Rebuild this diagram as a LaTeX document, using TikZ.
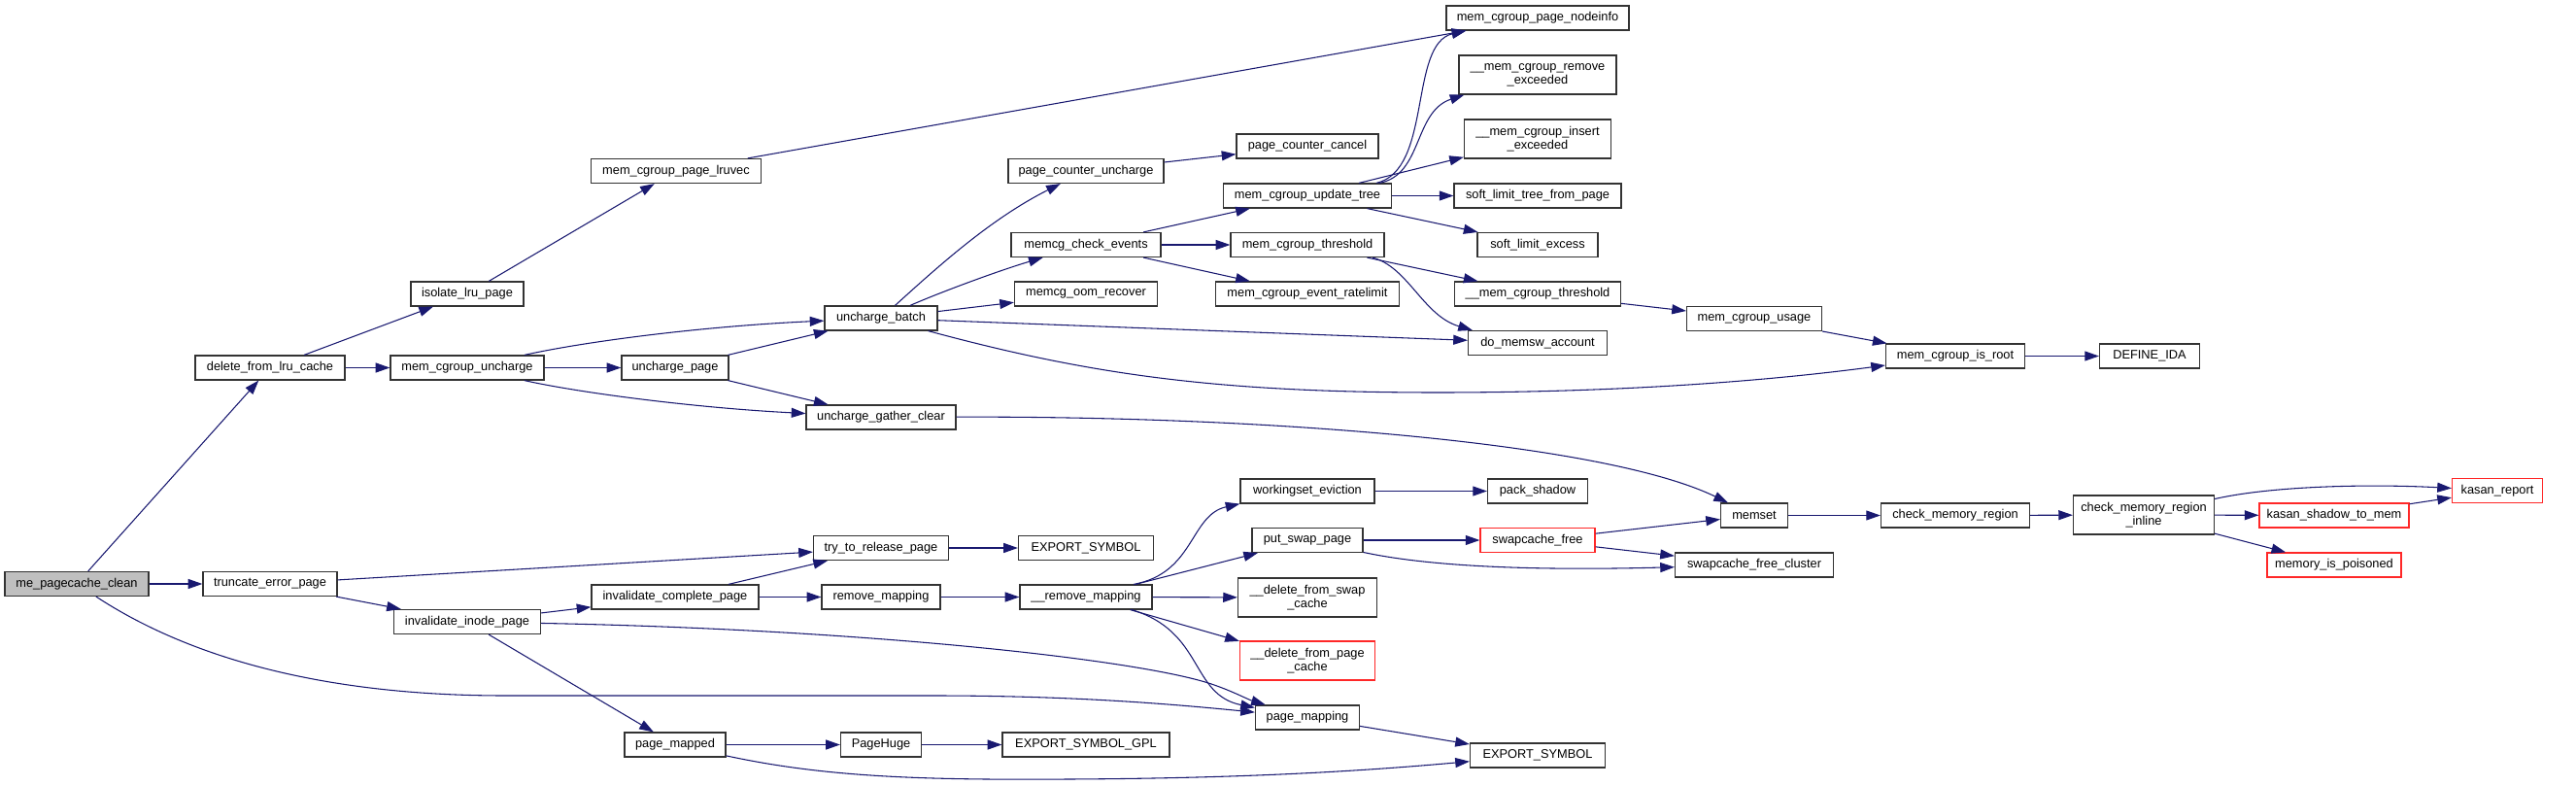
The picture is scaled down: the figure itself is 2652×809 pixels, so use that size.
\documentclass[tikz,border=0pt]{standalone}
\usepackage{fontspec}
\setmainfont{Liberation Sans}
\usetikzlibrary{arrows.meta,calc}
\definecolor{edgeblue}{HTML}{191970}
\definecolor{boxline}{HTML}{333333}
\definecolor{rootfill}{HTML}{BFBFBF}
\definecolor{trunc}{HTML}{FF2828}
\tikzset{
  fn/.style={draw=boxline, line width=0.9pt, fill=white, inner sep=0pt,
    minimum height=18.75pt, align=center, font=\fontsize{9.6}{10.5}\selectfont},
  bw/.style={minimum width=#1*0.75pt},
  tall/.style={minimum height=30pt},
  redbox/.style={draw=trunc},
  rootbox/.style={fill=rootfill},
  callline/.style={draw=edgeblue, line width=0.8pt, -{Triangle[length=11pt,width=7.5pt]}},
}
\begin{document}
\begin{tikzpicture}[x=0.75pt, y=-0.75pt]
    \useasboundingbox (0,0) rectangle (2652,809);

    % caller
    \node[fn, rootbox, bw=148] (root) at (79,601) {me\_pagecache\_clean};

    % first level
    \node[fn, bw=154] (dlc) at (278,378.5) {delete\_from\_lru\_cache};
    \node[fn, bw=138] (te) at (278,601) {truncate\_error\_page};

    % second level
    \node[fn, bw=116] (ilp) at (481,302.5) {isolate\_lru\_page};
    \node[fn, bw=158] (mcu) at (481,378.5) {mem\_cgroup\_uncharge};
    \node[fn, bw=151] (iip) at (481,640) {invalidate\_inode\_page};

    % third level
    \node[fn, bw=175] (lruvec) at (696,176) {mem\_cgroup\_page\_lruvec};
    \node[fn, bw=110] (upage) at (695,378.5) {uncharge\_page};
    \node[fn, bw=172] (icp) at (695,614.5) {invalidate\_complete\_page};
    \node[fn, bw=104] (pmapped) at (695,766.5) {page\_mapped};

    % fourth level
    \node[fn, bw=116] (ub) at (907,327.5) {uncharge\_batch};
    \node[fn, bw=154] (ugc) at (907,429.5) {uncharge\_gather\_clear};
    \node[fn, bw=139] (trp) at (907,564) {try\_to\_release\_page};
    \node[fn, bw=122] (rm) at (907,614.5) {remove\_mapping};
    \node[fn, bw=83] (phuge) at (907,766.5) {PageHuge};

    % fifth level
    \node[fn, bw=160] (pcu) at (1118,176) {page\_counter\_uncharge};
    \node[fn, bw=154] (mce) at (1118,252) {memcg\_check\_events};
    \node[fn, bw=147] (mor) at (1118,302.5) {memcg\_oom\_recover};
    \node[fn, bw=139] (esa) at (1118,564) {EXPORT\_SYMBOL};
    \node[fn, bw=136] (rmm) at (1118,614.5) {\_\_remove\_mapping};
    \node[fn, bw=172] (esgpl) at (1118,766.5) {EXPORT\_SYMBOL\_GPL};

    % sixth level
    \node[fn, bw=146] (pcc) at (1346,150.5) {page\_counter\_cancel};
    \node[fn, bw=173] (mcut) at (1346,201.5) {mem\_cgroup\_update\_tree};
    \node[fn, bw=158] (mct) at (1346,252) {mem\_cgroup\_threshold};
    \node[fn, bw=189] (mcer) at (1346,302.5) {mem\_cgroup\_event\_ratelimit};
    \node[fn, bw=138] (we) at (1346,505.5) {workingset\_eviction};
    \node[fn, bw=114] (psp) at (1346,556) {put\_swap\_page};
    \node[fn, tall, bw=143] (dfsc) at (1346,615) {\_\_delete\_from\_swap\\\_cache};
    \node[fn, tall, redbox, bw=139] (dfpc) at (1346,680) {\_\_delete\_from\_page\\\_cache};
    \node[fn, bw=107] (pmapping) at (1346,738.5) {page\_mapping};

    % seventh level
    \node[fn, bw=188] (nodeinfo) at (1583,18.5) {mem\_cgroup\_page\_nodeinfo};
    \node[fn, tall, bw=162] (mcre) at (1583,77) {\_\_mem\_cgroup\_remove\\\_exceeded};
    \node[fn, tall, bw=151] (mcie) at (1583,143) {\_\_mem\_cgroup\_insert\\\_exceeded};
    \node[fn, bw=172] (sltfp) at (1583,201.5) {soft\_limit\_tree\_from\_page};
    \node[fn, bw=124] (sle) at (1583,252) {soft\_limit\_excess};
    \node[fn, bw=171] (umct) at (1583,302.5) {\_\_mem\_cgroup\_threshold};
    \node[fn, bw=143] (dma) at (1583,353) {do\_memsw\_account};
    \node[fn, bw=103] (ps) at (1583,505.5) {pack\_shadow};
    \node[fn, redbox, bw=118] (scf) at (1583,556) {swapcache\_free};
    \node[fn, bw=139] (esb) at (1583,777.5) {EXPORT\_SYMBOL};

    % eighth level and beyond
    \node[fn, bw=139] (usage) at (1806,328) {mem\_cgroup\_usage};
    \node[fn, bw=69] (memset) at (1806,530.5) {memset};
    \node[fn, bw=163] (scfc) at (1806,581.5) {swapcache\_free\_cluster};
    \node[fn, bw=143] (isroot) at (2013,366.5) {mem\_cgroup\_is\_root};
    \node[fn, bw=153] (cmr) at (2013,530.5) {check\_memory\_region};
    \node[fn, bw=103] (ida) at (2213,366.5) {DEFINE\_IDA};
    \node[fn, tall, bw=145] (cmri) at (2207,530) {check\_memory\_region\\\_inline};
    \node[fn, redbox, bw=154] (kstm) at (2403,530.5) {kasan\_shadow\_to\_mem};
    \node[fn, redbox, bw=138] (mip) at (2403,581.5) {memory\_is\_poisoned};
    \node[fn, redbox, bw=93] (kr) at (2571,505) {kasan\_report};

    % calls from the caller
    \draw[callline] (root) -- (dlc);
    \draw[callline] (root) -- (te);
    \draw[callline] (root) .. controls (230,700) and (400,716) .. (520,716) -- (960,716)
        .. controls (1100,716) and (1200,724) .. (pmapping);

    % lru / uncharge branch
    \draw[callline] (dlc) -- (ilp);
    \draw[callline] (dlc) -- (mcu);
    \draw[callline] (ilp) -- (lruvec);
    \draw[callline] (lruvec) -- (nodeinfo);
    \draw[callline] (mcu) .. controls (600,352) and (720,336) .. (ub);
    \draw[callline] (mcu) -- (upage);
    \draw[callline] (mcu) .. controls (600,405) and (720,420) .. (ugc);
    \draw[callline] (upage) -- (ub);
    \draw[callline] (upage) -- (ugc);
    \draw[callline] (ub) .. controls (965,275) and (1020,225) .. (pcu);
    \draw[callline] (ub) .. controls (970,300) and (1030,278) .. (mce);
    \draw[callline] (ub) -- (mor);
    \draw[callline] (ub) -- (dma);
    \draw[callline] (ub) .. controls (1120,385) and (1250,404) .. (1480,404)
        .. controls (1700,404) and (1850,388) .. (isroot);
    \draw[callline] (ugc) .. controls (1300,428) and (1650,455) .. (memset);
    \draw[callline] (pcu) -- (pcc);
    \draw[callline] (mce) -- (mcut);
    \draw[callline] (mce) -- (mct);
    \draw[callline] (mce) -- (mcer);
    \draw[callline] ($(mcut.north)+(71,0)$) .. controls (1475,175) and (1450,45) .. ($(nodeinfo.south west)+(21,0)$);
    \draw[callline] ($(mcut.north)+(74,0)$) .. controls (1465,180) and (1455,115) .. ($(mcre.south west)+(6,0)$);
    \draw[callline] (mcut) -- (mcie);
    \draw[callline] (mcut) -- (sltfp);
    \draw[callline] (mcut) -- (sle);
    \draw[callline] (mct) -- (umct);
    \draw[callline] ($(mct.south)+(67,0)$) .. controls (1450,275) and (1465,325) .. ($(dma.north west)+(5,0)$);
    \draw[callline] (umct) -- (usage);
    \draw[callline] (usage) -- (isroot);
    \draw[callline] (isroot) -- (ida);

    % memset / kasan
    \draw[callline] (memset) -- (cmr);
    \draw[callline] (cmr) -- (cmri);
    \draw[callline] (cmri) .. controls (2340,500) and (2440,498) .. (kr);
    \draw[callline] (cmri) -- (kstm);
    \draw[callline] (cmri) -- (mip);
    \draw[callline] (kstm) -- (kr);

    % truncate branch
    \draw[callline] (te) -- (trp);
    \draw[callline] (te) -- (iip);
    \draw[callline] (iip) -- (icp);
    \draw[callline] (iip) .. controls (900,648) and (1180,680) .. (1250,705)
        .. controls (1270,712) and (1285,720) .. (pmapping);
    \draw[callline] (iip) -- (pmapped);
    \draw[callline] (icp) -- (trp);
    \draw[callline] (icp) -- (rm);
    \draw[callline] (trp) -- (esa);
    \draw[callline] (rm) -- (rmm);
    \draw[callline] ($(rmm.north)+(49,0)$) .. controls (1230,590) and (1225,530) .. (we.south west);
    \draw[callline] (rmm) -- (psp);
    \draw[callline] (rmm) -- (dfsc);
    \draw[callline] (rmm) -- (dfpc);
    \draw[callline] ($(rmm.south)+(47,0)$) .. controls (1240,650) and (1225,715) .. ($(pmapping.north west)+(0,3)$);
    \draw[callline] (we) -- (ps);
    \draw[callline] (psp) -- (scf);
    \draw[callline] (psp) .. controls (1480,585) and (1600,587) .. (scfc);
    \draw[callline] (scf) -- (memset);
    \draw[callline] (scf) -- (scfc);
    \draw[callline] (pmapping) -- (esb);
    \draw[callline] (pmapped) -- (phuge);
    \draw[callline] (pmapped) .. controls (850,800) and (950,803) .. (1100,802)
        .. controls (1300,801) and (1420,792) .. (esb);
    \draw[callline] (phuge) -- (esgpl);
\end{tikzpicture}
\end{document}
